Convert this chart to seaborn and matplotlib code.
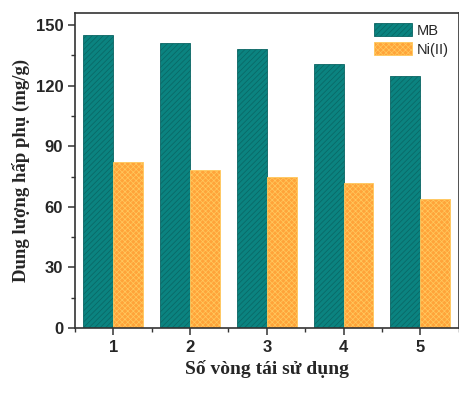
import pandas as pd
import matplotlib
matplotlib.use("Agg")
import matplotlib.pyplot as plt
import seaborn as sns
from matplotlib.ticker import MultipleLocator

# data
cycles = ["1", "2", "3", "4", "5"]
mb_values = [145, 141, 138, 131, 125]
ni_values = [82, 78, 75, 72, 64]
series = ["MB", "Ni(II)"]

df = pd.DataFrame({
    "cycle": cycles * 2,
    "value": mb_values + ni_values,
    "series": [series[0]] * len(cycles) + [series[1]] * len(cycles),
})

sns.set_style("ticks")
plt.rcParams["hatch.linewidth"] = 0.5

fig = plt.figure(figsize=(4.6, 3.96), dpi=100)
ax = fig.add_axes([0.163, 0.172, 0.834, 0.795])

palette = {"MB": "#0b8380", "Ni(II)": "#ffa43a"}
sns.barplot(data=df, x="cycle", y="value", hue="series", palette=palette,
            width=0.78, saturation=1, ax=ax, legend=False)

styles = [("#0a6563", "//////"), ("#ffc95e", "xxxxxx")]
for cont, (ec, hatch), name in zip(ax.containers, styles, series):
    cont.set_label(name)
    for p in cont:
        p.set_edgecolor(ec)
        p.set_hatch(hatch)
        p.set_linewidth(0.6)

ax.set_xlim(-0.5, 4.5)
ax.set_ylim(0, 156)
ax.yaxis.set_major_locator(MultipleLocator(30))
ax.yaxis.set_minor_locator(MultipleLocator(15))
ax.xaxis.set_minor_locator(MultipleLocator(0.5))

for s in ax.spines.values():
    s.set_color("#333333")
    s.set_linewidth(1.2)

ax.tick_params(axis="both", which="major", direction="out", length=5, width=1.1,
               labelsize=12, color="#333333")
ax.tick_params(axis="both", which="minor", direction="out", length=3, width=1.0,
               color="#333333")
for lab in ax.get_xticklabels() + ax.get_yticklabels():
    lab.set_fontfamily("Liberation Sans")
    lab.set_fontweight("bold")

ax.set_xlabel("Số vòng tái sử dụng", family="Liberation Serif", fontweight="bold",
              fontsize=14, labelpad=4)
ax.set_ylabel("Dung lượng hấp phụ (mg/g)", family="Liberation Serif", fontweight="bold",
              fontsize=13.5, labelpad=4)

ax.legend(handles=list(ax.containers), loc="upper right", frameon=False,
          prop={"family": "Liberation Sans", "size": 10.5},
          handlelength=2.6, handleheight=1.0, borderaxespad=0.3, labelspacing=0.3,
          handletextpad=0.3)

fig.savefig("out.png", dpi=100)
